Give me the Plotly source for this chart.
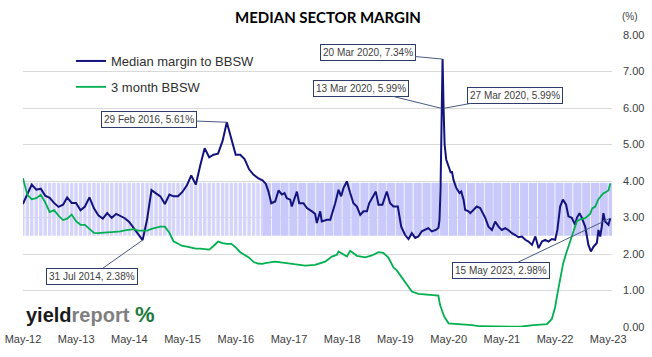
import pandas as pd
import plotly.graph_objects as go

# ---------------- data ----------------
# monthly part (month ends Apr-2012 .. Oct-2016)
MONTHLY_START = "2012-04-30"
blue_monthly = [3.37, 3.62, 3.90, 3.76, 3.79, 3.60, 3.54, 3.40, 3.29,
                3.35, 3.55, 3.40, 3.40, 3.20, 3.30, 3.55, 3.25, 3.06, 2.97, 3.12, 2.99,
                3.10, 3.05, 2.98, 2.88, 2.70, 2.55, 2.38, 2.95, 3.75, 3.66, 3.58, 3.37,
                3.63, 3.58, 3.58, 3.70, 3.88, 4.15, 3.90, 4.43, 4.90, 4.65, 4.72, 4.75,
                5.10, 5.61, 5.15, 4.72, 4.72, 4.60, 4.32, 4.17, 4.08, 4.02]
green_monthly = [4.08, 3.62, 3.50, 3.53, 3.62, 3.42, 3.15, 3.20, 3.05,
                 2.93, 2.97, 3.08, 2.90, 2.80, 2.80, 2.68, 2.58, 2.57, 2.57, 2.59, 2.60,
                 2.60, 2.62, 2.65, 2.66, 2.68, 2.64, 2.63, 2.64, 2.69, 2.73, 2.75, 2.75,
                 2.58, 2.35, 2.28, 2.22, 2.20, 2.17, 2.15, 2.15, 2.13, 2.12, 2.22, 2.34,
                 2.30, 2.28, 2.28, 2.18, 2.05, 1.97, 1.90, 1.78, 1.74, 1.73]

# weekly part (readings)
blue_weekly_dates = [
    "2016-11-23", "2016-12-11", "2016-12-30", "2017-01-26", "2017-02-18", "2017-03-13", "2017-03-31",
    "2017-04-16", "2017-05-09", "2017-05-20", "2017-06-24", "2017-07-10", "2017-08-08", "2017-09-01",
    "2017-10-05", "2017-10-27", "2017-11-08", "2017-12-01", "2017-12-12", "2018-01-16", "2018-02-08",
    "2018-03-02", "2018-03-14", "2018-04-06", "2018-04-24", "2018-05-10", "2018-06-02", "2018-06-25",
    "2018-07-17", "2018-08-10", "2018-09-02", "2018-09-24", "2018-10-18", "2018-11-02", "2018-12-02",
    "2018-12-18", "2019-01-05", "2019-02-01", "2019-03-03", "2019-03-26", "2019-04-18", "2019-05-18",
    "2019-06-10", "2019-07-07", "2019-07-30", "2019-08-22", "2019-09-14", "2019-10-06", "2019-10-29",
    "2019-11-21", "2019-12-13", "2020-01-06", "2020-02-03", "2020-02-21", "2020-02-28", "2020-03-06",
    "2020-03-13", "2020-03-20", "2020-03-27", "2020-04-03", "2020-04-14", "2020-04-30", "2020-05-16",
    "2020-05-23", "2020-06-03", "2020-06-22", "2020-07-14", "2020-07-26", "2020-08-11", "2020-08-22",
    "2020-09-14", "2020-09-26", "2020-10-18", "2020-11-10", "2020-12-03", "2020-12-22", "2021-01-07",
    "2021-01-29", "2021-02-22", "2021-03-16", "2021-04-08", "2021-05-01", "2021-05-24", "2021-06-16",
    "2021-07-09", "2021-08-01", "2021-08-23", "2021-09-16", "2021-10-09", "2021-10-31", "2021-11-24",
    "2021-12-17", "2022-01-08", "2022-01-31", "2022-02-23", "2022-03-17", "2022-04-09", "2022-05-02",
    "2022-05-17", "2022-06-05", "2022-06-24", "2022-07-16", "2022-08-01", "2022-08-24", "2022-09-16",
    "2022-09-28", "2022-10-16", "2022-11-01", "2022-11-24", "2022-12-16", "2023-01-02", "2023-01-20",
    "2023-02-12", "2023-02-23", "2023-03-07", "2023-03-18", "2023-03-29", "2023-04-10", "2023-04-22",
    "2023-05-03", "2023-05-15"]
blue_weekly = [
    3.92, 3.71, 3.39, 3.44, 3.74, 3.63, 3.67,
    3.53, 3.49, 3.30, 3.71, 3.39, 3.39, 3.26,
    3.17, 3.10, 2.85, 3.17, 2.89, 2.94, 2.94,
    3.21, 3.39, 3.76, 3.58, 3.81, 3.99, 3.67,
    3.39, 3.30, 3.07, 3.17, 3.17, 3.39, 3.58,
    3.71, 3.35, 3.35, 3.71, 3.39, 3.30, 3.30,
    2.75, 2.52, 2.41, 2.57, 2.44, 2.48, 2.62,
    2.66, 2.71, 2.62, 2.66, 2.72, 2.94, 3.76,
    5.99, 7.34, 5.99, 5.00, 4.59, 4.40, 4.22,
    4.27, 4.03, 3.81, 3.67, 3.71, 3.49, 3.21,
    3.17, 3.12, 3.21, 3.30, 3.26, 3.12, 2.99,
    2.75, 2.66, 2.89, 2.75, 2.66, 2.71, 2.65,
    2.57, 2.52, 2.46, 2.48, 2.39, 2.34, 2.25,
    2.48, 2.16, 2.34, 2.39, 2.34, 2.41, 2.39,
    2.66, 3.30, 3.49, 3.35, 3.03, 2.99, 2.80,
    2.99, 3.12, 2.99, 2.75, 2.25, 2.07, 2.20,
    2.30, 2.66, 2.48, 2.75, 3.12, 2.89, 2.84,
    2.80, 2.98]

green_weekly_dates = [
    "2016-11-18", "2017-01-26", "2017-04-16", "2017-06-13", "2017-08-20", "2017-10-27", "2017-12-01",
    "2018-01-04", "2018-02-20", "2018-03-26", "2018-04-06", "2018-05-10", "2018-06-02", "2018-06-25",
    "2018-08-10", "2018-10-06", "2018-11-21", "2019-01-05", "2019-02-08", "2019-03-14", "2019-04-18",
    "2019-05-11", "2019-06-14", "2019-07-19", "2019-08-22", "2019-10-06", "2019-11-21", "2020-01-06",
    "2020-02-20", "2020-03-03", "2020-04-01", "2020-04-30", "2020-07-19", "2020-10-08", "2020-12-03",
    "2021-03-05", "2021-06-05", "2021-09-04", "2021-12-04", "2022-03-07", "2022-04-09", "2022-05-02",
    "2022-05-17", "2022-06-05", "2022-06-26", "2022-07-19", "2022-08-12", "2022-09-05", "2022-09-28",
    "2022-10-21", "2022-11-24", "2022-12-28", "2023-01-11", "2023-02-01", "2023-02-23", "2023-03-26",
    "2023-04-17", "2023-05-03", "2023-05-15"]
green_weekly = [
    1.75, 1.79, 1.75, 1.73, 1.68, 1.70, 1.75,
    1.79, 1.93, 1.98, 2.07, 2.00, 1.93, 2.09,
    1.95, 1.91, 1.96, 2.05, 2.03, 1.90, 1.63,
    1.55, 1.36, 1.15, 0.97, 0.91, 0.90, 0.88,
    0.86, 0.60, 0.28, 0.10, 0.08, 0.05, 0.02,
    0.01, 0.00, 0.01, 0.05, 0.08, 0.22, 0.55,
    0.90, 1.35, 1.75, 2.05, 2.34, 2.61, 2.90,
    2.95, 2.98, 3.10, 3.25, 3.30, 3.50, 3.65,
    3.70, 3.74, 3.93]

BAND_LOW = 2.50
BAND_HIGH = 3.95

ann_dates = ["2016-02-29", "2020-03-20", "2020-03-13", "2020-03-27", "2014-07-31", "2023-05-15"]
ann_values = [5.61, 7.34, 5.99, 5.99, 2.38, 2.98]
ann_labels = ["29 Feb 2016, 5.61%", "20 Mar 2020, 7.34%", "13 Mar 2020, 5.99%",
              "27 Mar 2020, 5.99%", "31 Jul 2014, 2.38%", "15 May 2023, 2.98%"]

# ---------------- build ----------------
monthly_dates = pd.date_range(MONTHLY_START, periods=len(blue_monthly), freq="ME")
blue_x = list(monthly_dates) + list(pd.to_datetime(blue_weekly_dates))
blue_y = blue_monthly + blue_weekly
green_x = list(monthly_dates) + list(pd.to_datetime(green_weekly_dates))
green_y = green_monthly + green_weekly

DAY = 86400000
band_starts = pd.date_range("2016-11-01", "2023-05-31", freq="2MS")
band_m_x = list(monthly_dates)
band_w_x = [d + pd.Timedelta(days=30) for d in band_starts]

FONT = "Arial, Liberation Sans, sans-serif"
BLUE = "#13137d"
GREEN = "#00b050"

W, H = 652, 357
PL, PT, PR, PB = 23, 35, 612, 327   # plot box in page pixels
PW, PH = PR - PL, PB - PT


def px(xp):
    return (xp - PL) / PW


def py(yp):
    return (PB - yp) / PH


fig = go.Figure()
fig.add_trace(go.Bar(x=band_m_x, y=[BAND_HIGH - BAND_LOW] * len(band_m_x), base=BAND_LOW,
                     width=[24 * DAY] * len(band_m_x),
                     marker=dict(color="#d5d5fc", line=dict(width=0)),
                     showlegend=False, hoverinfo="skip"))
fig.add_trace(go.Bar(x=band_w_x, y=[BAND_HIGH - BAND_LOW] * len(band_w_x), base=BAND_LOW,
                     width=[56 * DAY] * len(band_w_x),
                     marker=dict(color="#c9c9fb", line=dict(width=0)),
                     showlegend=False, hoverinfo="skip"))
fig.add_trace(go.Scatter(x=blue_x, y=blue_y, mode="lines", name="Median margin to BBSW",
                         line=dict(color=BLUE, width=2), legendgroup="a"))
fig.add_trace(go.Scatter(x=green_x, y=green_y, mode="lines", name="3 month BBSW",
                         line=dict(color=GREEN, width=1.8), legendgroup="b"))

offsets = [(-78, -3), (-75, -7), (-81, -20), (71, -13), (-51, 36), (-109, 52)]
annotations = []
for d, v, t, (ax, ay) in zip(ann_dates, ann_values, ann_labels, offsets):
    annotations.append(dict(x=d, y=v, xref="x", yref="y", text=t, showarrow=True,
                            arrowhead=0, arrowwidth=1, arrowcolor="#4a5a85", ax=ax, ay=ay,
                            font=dict(family=FONT, size=10, color="#404040"),
                            bgcolor="white", bordercolor="#2f3d6b", borderwidth=1, borderpad=2))
annotations.append(dict(x=px(630), y=py(16), xref="paper", yref="paper",
                        text="(%)", showarrow=False, xanchor="center", yanchor="middle",
                        font=dict(family=FONT, size=10, color="#404040")))
annotations.append(dict(x=px(24), y=py(314), xref="paper", yref="paper",
                        xanchor="left", yanchor="middle", showarrow=False, bgcolor="white",
                        text="<b>yield</b><b><span style='color:#7f7f7f'>report</span></b> "
                             "<b><span style='color:#1e7a3c;font-size:22px'>%</span></b>",
                        font=dict(family=FONT, size=20, color="#1a1a1a")))

fig.update_layout(
    width=W, height=H, autosize=False,
    margin=dict(l=PL, r=W - PR, t=PT, b=H - PB, autoexpand=False),
    plot_bgcolor="white", paper_bgcolor="white",
    title=dict(text="<b>MEDIAN SECTOR MARGIN</b>", x=328 / W, xanchor="center",
               y=1 - 18 / H, yanchor="middle",
               font=dict(family="Lato, sans-serif", size=15, color="#000000")),
    legend=dict(x=px(71), y=py(46), xanchor="left", yanchor="top",
                bgcolor="rgba(255,255,255,0)", tracegroupgap=6,
                font=dict(family=FONT, size=13, color="#303030")),
    annotations=annotations,
    xaxis=dict(type="date", range=["2012-05-01", "2023-05-27"], tick0="2012-05-01",
               dtick="M12", tickformat="%b-%y", showgrid=False, zeroline=False,
               showline=False, ticks="", ticklabelstandoff=4, automargin=False,
               ticklabeloverflow="allow",
               tickfont=dict(family=FONT, size=11, color="#404040")),
    yaxis=dict(range=[0, 8], dtick=1, tickformat=".2f", side="right", showgrid=True,
               gridcolor="#d9d9d9", gridwidth=1, zeroline=False, showline=False, ticks="",
               ticklabelstandoff=10, automargin=False,
               tickfont=dict(family=FONT, size=11, color="#404040")),
    barmode="overlay",
)

fig.write_html("out.html", config={"displayModeBar": False},
               post_script="document.body.style.margin='0';")
